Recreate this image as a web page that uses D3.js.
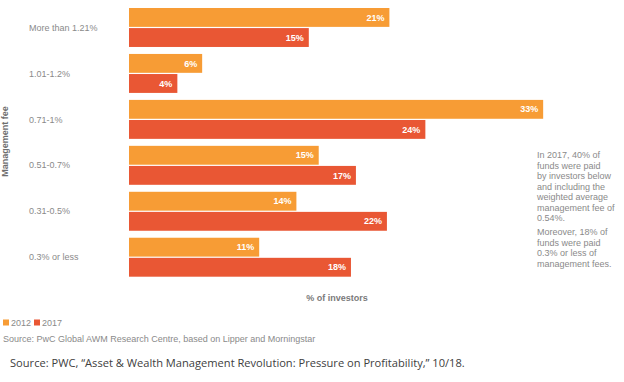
<!DOCTYPE html>
<html><head><meta charset="utf-8">
<script src="https://cdn.jsdelivr.net/npm/d3@7"></script>
<style>body{margin:0;background:#fff}svg{display:block}</style>
</head><body><svg id="c" width="624" height="382"></svg>
<script>
const categories = ["More than 1.21%", "1.01-1.2%", "0.71-1%", "0.51-0.7%", "0.31-0.5%", "0.3% or less"];
const seriesNames = ["2012", "2017"];
const values2012 = [21.0, 5.9, 33.4, 15.3, 13.5, 10.5];
const values2017 = [14.5, 3.9, 23.9, 18.3, 20.8, 17.9];
const labels2012 = ["21%", "6%", "33%", "15%", "14%", "11%"];
const labels2017 = ["15%", "4%", "24%", "17%", "22%", "18%"];
const colors = ["#F79C35", "#E95734"];
const noteLines1 = ["In 2017, 40% of", "funds were paid", "by investors below", "and including the", "weighted average", "management fee of", "0.54%."];
const noteLines2 = ["Moreover, 18% of", "funds were paid", "0.3% or less of", "management fees."];

const svg = d3.select("#c");
const font = "Liberation Sans, Arial, sans-serif";
const x = d3.scaleLinear().domain([0, 40]).range([129, 129 + 40 * 12.4]);
const y = d3.scaleBand().domain(categories).range([8, 276.7]).paddingInner(0.152).paddingOuter(0);
const ySub = d3.scaleBand().domain(seriesNames).range([0, y.bandwidth()]).paddingInner(0.06);

const rows = categories.map((c, i) => ({c, v: [values2012[i], values2017[i]], l: [labels2012[i], labels2017[i]]}));
const g = svg.append("g");
rows.forEach(r => {
  seriesNames.forEach((s, j) => {
    const yy = y(r.c) + ySub(s);
    g.append("rect").attr("x", x(0)).attr("y", yy).attr("width", x(r.v[j]) - x(0))
      .attr("height", ySub.bandwidth()).attr("fill", colors[j]);
    g.append("text").attr("x", x(r.v[j]) - 5).attr("y", yy + ySub.bandwidth() / 2).attr("dy", "0.35em")
      .attr("text-anchor", "end").attr("fill", "#fff").attr("font-weight", "bold")
      .attr("font-family", font).attr("font-size", 9).text(r.l[j]);
  });
  g.append("text").attr("x", 29).attr("y", y(r.c) + y.bandwidth() / 2).attr("dy", "0.35em")
    .attr("fill", "#8a8a8a").attr("font-family", font).attr("font-size", 9).text(r.c);
});

svg.append("text").attr("transform", "translate(7.5,141.5) rotate(-90)").attr("text-anchor", "middle")
  .attr("fill", "#6e6e6e").attr("font-weight", "bold").attr("font-family", font).attr("font-size", 9)
  .text("Management fee");

svg.append("text").attr("x", 337).attr("y", 301).attr("text-anchor", "middle")
  .attr("fill", "#7a7a7a").attr("font-weight", "bold").attr("font-family", font).attr("font-size", 9)
  .text("% of investors");

// legend
const lg = svg.append("g");
const legX = [3, 34];
seriesNames.forEach((s, j) => {
  lg.append("rect").attr("x", legX[j]).attr("y", 319.5).attr("width", 6).attr("height", 6).attr("fill", colors[j]);
  lg.append("text").attr("x", legX[j] + 8).attr("y", 326).attr("fill", "#8a8a8a")
    .attr("font-family", font).attr("font-size", 9).text(s);
});
svg.append("text").attr("x", 3).attr("y", 342).attr("fill", "#8a8a8a").attr("font-family", font)
  .attr("font-size", 9).text("Source: PwC Global AWM Research Centre, based on Lipper and Morningstar");

// notes
noteLines1.forEach((t, i) => svg.append("text").attr("x", 537).attr("y", 158 + i * 10.5)
  .attr("fill", "#8a8a8a").attr("font-family", font).attr("font-size", 9).text(t));
noteLines2.forEach((t, i) => svg.append("text").attr("x", 537).attr("y", 235 + i * 10.5)
  .attr("fill", "#8a8a8a").attr("font-family", font).attr("font-size", 9).text(t));

const src = svg.append("text").attr("x", 10).attr("y", 367).attr("fill", "#404040")
  .attr("font-family", "Open Sans, sans-serif").attr("font-size", 12.5)
  .text("Source: PWC, \u201CAsset & Wealth Management Revolution: Pressure on Profitability,\u201D 10/18.");
const w = src.node().getComputedTextLength();
src.attr("font-size", 12.5 * 455 / w);
</script></body></html>
